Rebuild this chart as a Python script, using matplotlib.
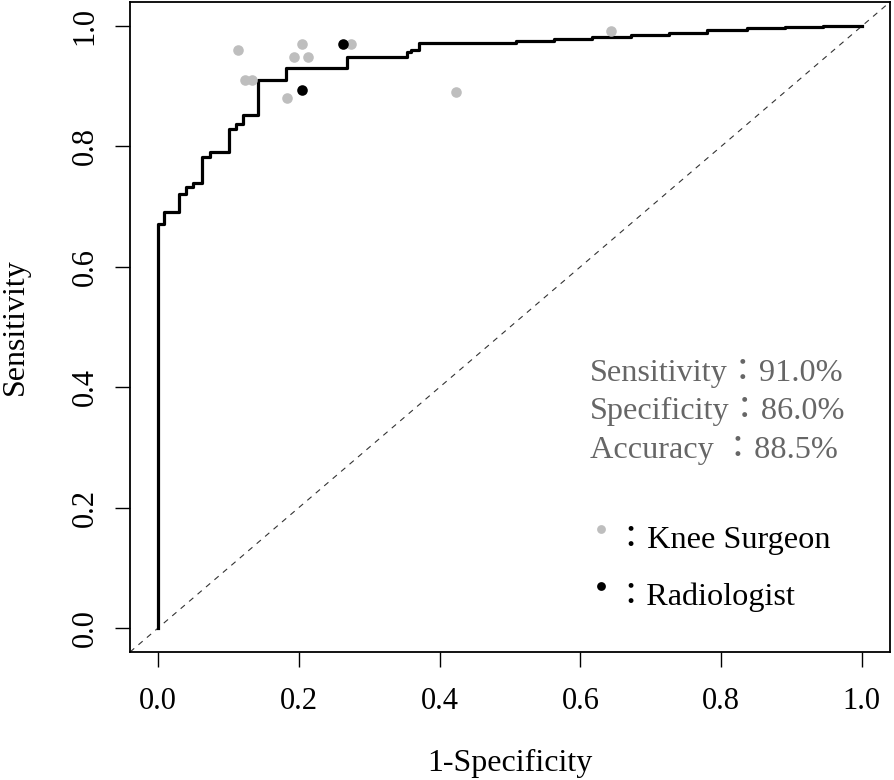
import numpy as np
import matplotlib
matplotlib.use("Agg")
import matplotlib.pyplot as plt

plt.rcParams['font.family'] = ['Liberation Serif', 'Noto Sans CJK JP']

# ROC curve corners (1-specificity, sensitivity)
roc_fpr = [0, 0, 0.009, 0.029, 0.040, 0.050, 0.062, 0.073, 0.101, 0.110, 0.121,
           0.142, 0.181, 0.269, 0.353, 0.360, 0.370, 0.508, 0.562, 0.617, 0.672,
           0.726, 0.780, 0.837, 0.891, 0.945, 1.0]
roc_tpr = [0, 0.671, 0.691, 0.721, 0.732, 0.740, 0.783, 0.791, 0.829, 0.838, 0.852,
           0.910, 0.930, 0.949, 0.957, 0.961, 0.972, 0.975, 0.979, 0.982, 0.986,
           0.989, 0.993, 0.996, 0.998, 1.0, 1.0]

# readers
surgeon_fpr = [0.113, 0.124, 0.133, 0.204, 0.193, 0.213, 0.183, 0.274, 0.423, 0.643]
surgeon_sens = [0.960, 0.910, 0.910, 0.971, 0.949, 0.949, 0.880, 0.971, 0.890, 0.991]
radio_fpr = [0.262, 0.204]
radio_sens = [0.971, 0.894]

stats_lines = ["Sensitivity：91.0%", "Specificity：86.0%", "Accuracy ：88.5%"]
ticks = [0.0, 0.2, 0.4, 0.6, 0.8, 1.0]

fig = plt.figure(figsize=(8.95, 7.8), dpi=100)
ax = fig.add_axes([130/895, 1-652/780, 760/895, 650/780])

ax.plot([-0.1, 1.1], [-0.1, 1.1], color='#333333', lw=0.8, ls=(0, (5, 5)))
ax.plot(roc_fpr, roc_tpr, drawstyle='steps-post', color='black', lw=2.3)
ax.scatter(surgeon_fpr, surgeon_sens, s=58, color='#bebebe', zorder=3, linewidths=0)
ax.scatter(radio_fpr, radio_sens, s=58, color='black', zorder=4, linewidths=0)

# stats text
for i, line in enumerate(stats_lines):
    ax.text(0.614, 0.411 - i*0.064, line, fontsize=23.2, color='#666666', va='baseline')

# legend
ax.scatter([0.630], [0.164], s=40, color='#bebebe', linewidths=0)
ax.scatter([0.630], [0.069], s=40, color='black', linewidths=0)
ax.text(0.649, 0.132, "：Knee Surgeon", fontsize=23.2, va='baseline')
ax.text(0.649, 0.038, "：Radiologist", fontsize=23.2, va='baseline')

ax.set_xlim(-0.04, 1.04)
ax.set_ylim(-0.04, 1.04)
ax.set_xticks(ticks)
ax.set_yticks(ticks)
ax.set_xticklabels(["%.1f" % t for t in ticks])
ax.set_yticklabels(["%.1f" % t for t in ticks], rotation=90, va='center')
ax.tick_params(axis='x', length=11, width=1, labelsize=22, pad=14)
ax.tick_params(axis='y', length=11, width=1, labelsize=22, pad=11)
for s in ax.spines.values():
    s.set_linewidth(1.3)

ax.set_xlabel("1-Specificity", fontsize=23, labelpad=24)
ax.set_ylabel("Sensitivity", fontsize=23, labelpad=29)

fig.savefig("out.png", dpi=100)
